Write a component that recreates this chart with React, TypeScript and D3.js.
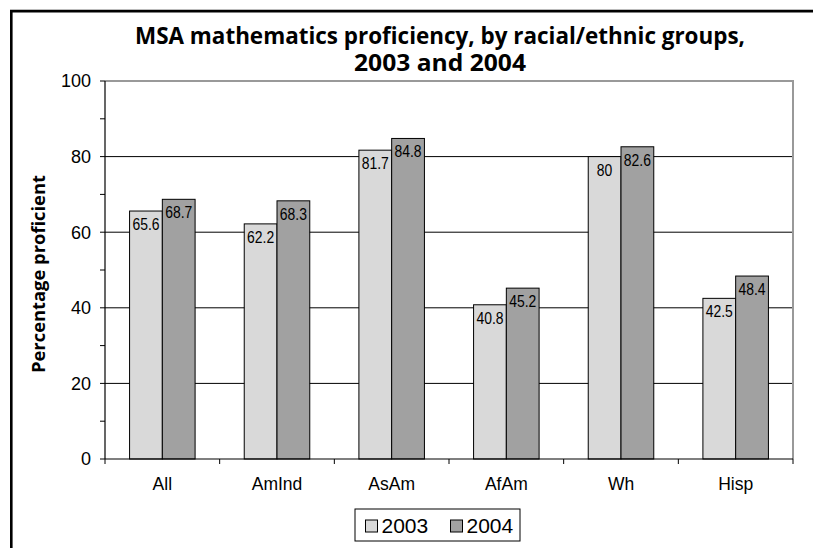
import React from "react";
import * as d3 from "d3";

const categories = ["All", "AmInd", "AsAm", "AfAm", "Wh", "Hisp"];
const seriesNames = ["2003", "2004"];
const values2003 = [65.6, 62.2, 81.7, 40.8, 80, 42.5];
const values2004 = [68.7, 68.3, 84.8, 45.2, 82.6, 48.4];
const yTicks = [0, 20, 40, 60, 80, 100];
const yMinorTicks = [10, 30, 50, 70, 90];
const titleLines = ["MSA mathematics proficiency, by racial/ethnic groups,", "2003 and 2004"];
const yTitle = "Percentage proficient";

const W = 813;
const H = 548;
const plot = { left: 105, right: 793, top: 81, bottom: 459 };
const fills = ["#d9d9d9", "#a1a1a1"];

export default function App() {
  const x = d3.scaleBand<string>().domain(categories).range([plot.left, plot.right]).padding(0);
  const inner = d3
    .scaleBand<string>()
    .domain(seriesNames)
    .range([0, x.bandwidth()])
    .paddingInner(0)
    .paddingOuter(0.75);
  const y = d3.scaleLinear().domain([0, 100]).range([plot.bottom, plot.top]);
  const series = [values2003, values2004];
  const boundaries = categories.map((c) => x(c) as number).concat([plot.right]);

  const armFont = "'Liberation Sans', Arial, sans-serif";
  const boldFont = "'Open Sans', 'Noto Sans', sans-serif";

  return (
    <svg
      width={W}
      height={H}
      viewBox={`0 0 ${W} ${H}`}
      style={{ position: "absolute", left: 0, top: 0, background: "#fff" }}
    >
      <rect x={0} y={0} width={W} height={H} fill="#fff" />
      {/* outer frame */}
      <line x1={10} x2={W} y1={9.5} y2={9.5} stroke="#bbb" strokeWidth={1} />
      <line x1={10} x2={W} y1={11.3} y2={11.3} stroke="#000" strokeWidth={2.6} />
      <line x1={11.3} x2={11.3} y1={10} y2={H} stroke="#000" strokeWidth={2.6} />

      {/* title */}
      {titleLines.map((t, i) => (
        <text
          key={t}
          x={440}
          y={44 + i * 27}
          textAnchor="middle"
          fontFamily={boldFont}
          fontWeight="bold"
          fontSize={23}
          fill="#000"
          textLength={i === 0 ? 610 : 172}
          lengthAdjust="spacingAndGlyphs"
        >
          {t}
        </text>
      ))}

      {/* gridlines */}
      {yTicks
        .filter((t) => t > 0 && t < 100)
        .map((t) => (
          <line key={t} x1={plot.left} x2={plot.right} y1={y(t)} y2={y(t)} stroke="#000" strokeWidth={1} />
        ))}
      {/* plot area border: top and right */}
      <line x1={plot.left} x2={plot.right + 1} y1={plot.top} y2={plot.top} stroke="#999" strokeWidth={2} />
      <line x1={plot.right} x2={plot.right} y1={plot.top} y2={plot.bottom} stroke="#999" strokeWidth={2} />

      {/* bars */}
      {categories.map((c, ci) =>
        series.map((vals, si) => {
          const bx = (x(c) as number) + (inner(seriesNames[si]) as number);
          const bw = inner.bandwidth();
          const by = y(vals[ci]);
          return (
            <g key={c + si}>
              <rect
                x={bx}
                y={by}
                width={bw}
                height={plot.bottom - by}
                fill={fills[si]}
                stroke="#000"
                strokeWidth={1}
              />
              <text
                transform={`translate(${bx + bw / 2},${by + 19}) scale(0.82,1)`}
                textAnchor="middle"
                fontFamily={armFont}
                fontSize={17}
                fill="#000"
              >
                {vals[ci]}
              </text>
            </g>
          );
        })
      )}

      {/* axes */}
      <line x1={plot.left} x2={plot.left} y1={plot.top} y2={plot.bottom} stroke="#000" strokeWidth={1.2} />
      <line x1={plot.left} x2={plot.right} y1={plot.bottom} y2={plot.bottom} stroke="#000" strokeWidth={1.2} />
      {yTicks.concat(yMinorTicks).map((t) => (
        <line key={"yt" + t} x1={plot.left - 5} x2={plot.left} y1={y(t)} y2={y(t)} stroke="#000" strokeWidth={1} />
      ))}
      {yTicks.map((t) => (
        <text
          key={"yl" + t}
          x={91}
          y={y(t)}
          dy="0.36em"
          textAnchor="end"
          fontFamily={armFont}
          fontSize={18}
          fill="#000"
        >
          {t}
        </text>
      ))}
      {boundaries.map((b, i) => (
        <line key={"xt" + i} x1={b} x2={b} y1={plot.bottom} y2={plot.bottom + 5} stroke="#000" strokeWidth={1} />
      ))}
      {categories.map((c) => (
        <text
          key={"xl" + c}
          x={(x(c) as number) + x.bandwidth() / 2}
          y={490}
          textAnchor="middle"
          fontFamily={armFont}
          fontSize={17.5}
          fill="#000"
        >
          {c}
        </text>
      ))}

      {/* y axis title */}
      <text
        transform={`translate(45,274) rotate(-90)`}
        textAnchor="middle"
        fontFamily={boldFont}
        fontWeight="bold"
        fontSize={17.5}
        fill="#000"
        textLength={198}
        lengthAdjust="spacingAndGlyphs"
      >
        {yTitle}
      </text>

      {/* legend */}
      <rect x={355} y={509} width={165} height={32} fill="#fff" stroke="#000" strokeWidth={1} />
      {seriesNames.map((s, i) => (
        <g key={"lg" + s} transform={`translate(${365.5 + i * 85},520)`}>
          <rect x={0} y={0} width={12} height={12} fill={fills[i]} stroke="#000" strokeWidth={1} />
          <text x={16} y={13} fontFamily={armFont} fontSize={21} fill="#000">
            {s}
          </text>
        </g>
      ))}
    </svg>
  );
}
